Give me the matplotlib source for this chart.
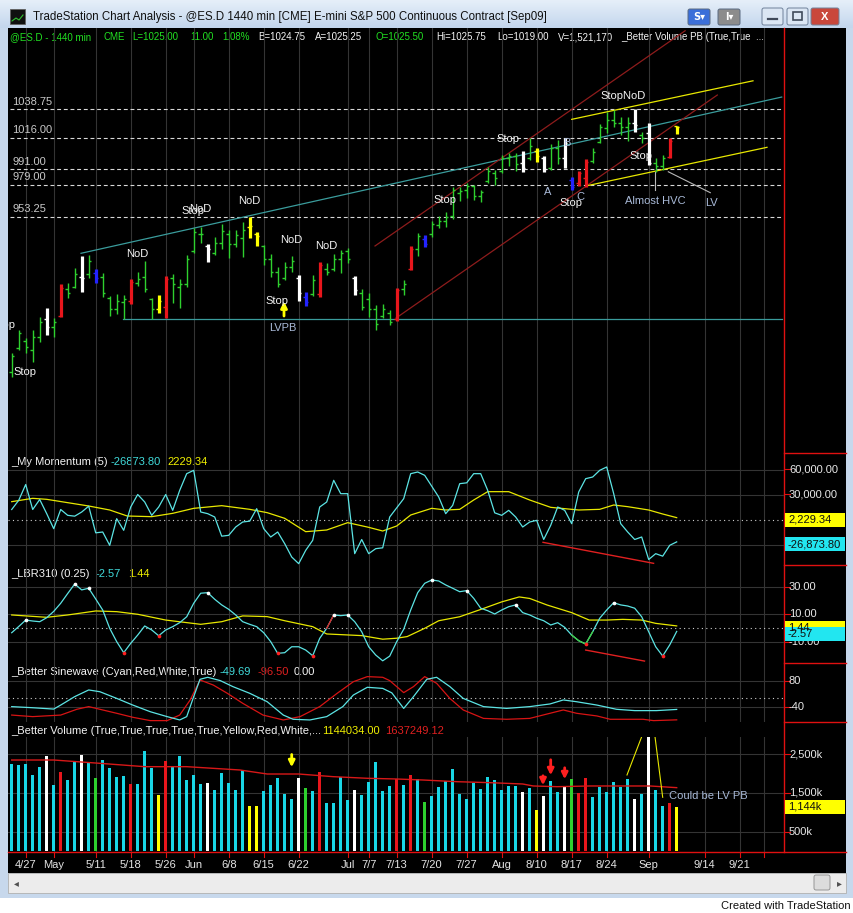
# TradeStation style daily ES chart: price bars, momentum, LBR310, sinewave, volume
import numpy as np
import matplotlib
matplotlib.use('Agg')
import matplotlib.pyplot as plt
from matplotlib.patches import Rectangle, FancyBboxPatch
from matplotlib.colors import LinearSegmentedColormap
from matplotlib.transforms import blended_transform_factory as blend

plt.rcParams['font.family'] = ['Liberation Sans', 'DejaVu Sans']

# ---------------- data ----------------
highs = [845.25, 863.5, 857.25, 863.5, 874, 881, 873, 900, 901, 912.75,
         922.25, 923, 912, 908.75, 890.5, 892.25, 891.5, 904, 909.5, 918.25,
         889, 891.5, 906.5, 908, 904, 923, 944.5, 945.25, 931.75, 937.5,
         947.75, 943, 943, 949.25, 953.25, 941.5, 931, 924, 913.5, 917.5,
         922.25, 907.25, 893.75, 907.25, 917.5, 916.75, 924, 927, 928.75, 906.5,
         896, 893, 883.5, 884.25, 879.5, 897, 903.25, 930.25, 940.5, 939,
         950, 954, 957.25, 977, 977, 980.25, 978.75, 974.75, 993, 990.5,
         1002.5, 1004, 1004, 1005.75, 1016, 1008, 1001.75, 1011.25, 1014.5, 1016,
         985, 989.75, 999.25, 1008, 1027, 1036.5, 1038.25, 1032.5, 1032.5, 1039,
         1020.75, 1028, 1000, 1002.5, 1016, 1025.75]
lows = [826.25, 847.75, 845.25, 838.25, 854, 859.5, 858, 874, 889, 897,
        893.75, 905, 901, 889.75, 874.75, 876.25, 872.25, 884.25, 898.5, 893.75,
        872.25, 877, 873, 885, 881, 897.75, 924.75, 932.5, 917.5, 923,
        928, 920.75, 929.5, 921.5, 936.5, 930.25, 915.25, 905.5, 897.75, 903.25,
        909.5, 886.5, 882.5, 890.5, 889.75, 907.25, 910.5, 908.75, 916.75, 891.5,
        879.5, 874, 863.5, 873, 867.5, 870.75, 891.5, 911.25, 922.25, 929.5,
        937.5, 944.5, 945.25, 951.75, 966, 968.25, 966.75, 965.25, 980.25, 978.75,
        988.25, 993.75, 989.75, 989, 998.5, 997, 989, 990.5, 995.25, 992.25,
        974.75, 978, 977, 996, 1012, 1020, 1024.75, 1018.5, 1013.5, 1020.75,
        1012, 994.5, 989, 990.5, 1000, 1019]
opens = [830, 849, 855, 848, 858, 872, 866, 875, 896, 898,
         906, 908, 909, 906, 889, 880, 886, 887, 901, 906,
         888, 880, 882, 905, 898, 900, 926, 940, 930, 925,
         933, 940, 932, 937, 945, 940, 930, 920, 910, 905,
         914, 905, 890, 892, 892, 912, 912, 920, 926, 905,
         893, 888, 880, 875, 877, 872, 896, 912, 928, 936,
         940, 947, 950, 954, 972, 975, 978, 970, 982, 988,
         990, 1000, 1002, 996, 1000, 1006, 1000, 992, 1008, 1000,
         983, 980, 984, 998, 1013, 1024, 1030, 1028, 1025, 1028,
         1018, 1020, 996, 994, 1001, 1025.5]
closes = [843, 861, 850, 858, 870, 866, 870, 897, 893, 908,
          905, 918, 905, 893, 880, 887, 888, 902, 904, 896,
          880, 887, 904, 900, 900, 920, 941, 940, 928, 933,
          942, 932, 939, 943, 946, 938, 920, 910, 900, 914,
          918, 893, 886, 903, 915, 910, 920, 925, 920, 895,
          882, 880, 868, 880, 870, 895, 900, 928, 938, 932,
          948, 950, 953, 975, 974, 978, 970, 973, 990, 984,
          1000, 1002, 995, 992, 1010, 1002, 991, 1008, 1000, 1012,
          977, 988, 997, 1005, 1025, 1030, 1028, 1025, 1028, 1026,
          1016, 996, 994, 1000, 1014, 1025]
# bar class: g normal, w white, r red, b blue (green volume), y yellow
bar_class = list("gggggwgrgg" "wgbggggrgg" "gyrgggggwg" "ggggyygggg" "gwbgrggggw"
                 "gggggrgrgb" "gggggggggg" "gggwgywggw" "brrggggggw" "gwggry")

tick_idx = [2, 6, 12, 17, 22, 26, 31, 36, 41, 48, 51, 55, 60, 65, 70, 75, 80, 85, 91, 99, 104]
tick_lbl = ['4/27', 'May', '5/11', '5/18', '5/26', 'Jun', '6/8', '6/15', '6/22', 'Jul', '7/7',
            '7/13', '7/20', '7/27', 'Aug', '8/10', '8/17', '8/24', 'Sep', '9/14', '9/21']
extra_grid = [107.5]

price_levels = [1038.75, 1016.00, 991.00, 979.00, 953.25]

momentum = [12000, 23000, 42000, 12000, 24000, 7000, -11000, 12000, 5000, 4000,
            9000, 16000, -16000, -15000, -31000, 1000, -13000, 15000, 30000, 21000,
            5000, 15000, 30000, 11000, 35000, 55000, 59000, 9000, 7000, 3000,
            -20000, -19000, -9000, -3000, -2000, 13000, -11000, -21000, -15000, -29000,
            -45000, -53000, -37000, -25000, 15000, 21000, 47000, 31000, 31000, -41000,
            -24000, -41000, -35000, -34000, 3000, 14000, 25000, 55000, 57000, 53000,
            40000, 27000, 7000, 17000, 43000, 44000, 55000, 55000, 35000, 8000,
            5000, 11000, 3000, -9000, -3000, -1000, -24000, -7000, 15000, 11000,
            -5000, 33000, 49000, 51000, 59000, 63000, 31000, -5000, -15000, -24000,
            -21000, -48000, -41000, -44000, -31000, -26873.80]
mom_avg_idx = [0, 3, 5, 8, 11, 14, 16.5, 20, 23, 26, 30, 34, 36.5, 39, 42, 45, 48, 51,
               53, 55, 57, 60, 62, 64, 66, 68, 71, 74, 77, 81, 84, 86, 88, 91, 93, 95]
mom_avg = [21400, 25400, 24200, 20200, 16200, 11400, 4200, 3400, 7400, 13400, 16600, 12200,
           8200, 1400, -14600, -12600, -3800, -9400, -13800, -7800, 5400, 13400, 11400, 12200,
           23400, 33400, 33400, 23400, 14600, 11400, 12200, 17400, 15400, 11400, 6600, 2229.34]
mom_div = ([75.9, 91.7], [-27400, -52600])

lbr = [-3.5, 1, 5.7, 5, 4.5, 7.4, 12, 17.9, 25, 31.9,
       27.6, 28.8, 21, 13.0, -0.3, -10.0, -18.0, -11.2, -5.2, 1.4,
       -1.5, -5.7, -1.5, 0.9, 3.8, 8.1, 17.9, 25.2, 25.6, 20.8,
       16.7, 13.5, 9.4, 4.5, 2.6, 0.9, -3.5, -10.0, -18.5, -18.0,
       -13.7, -13.7, -16.1, -20.2, -7.6, -0.3, 9.4, 8.9, 9.4, 4.5,
       -2.8, -13.7, -19.7, -23.9, -20.5, -10, -1.0, 13.0, 25.6, 32.4,
       34.8, 34.1, 31.2, 28.8, 26.3, 27.1, 21.5, 14.3, 12.5, 10.1,
       13.0, 15.4, 16.7, 11.1, 9.4, 7.0, 5.2, 2.1, 3.8, 0.4,
       -5.2, -9.3, -11.7, -2.8, 7.0, 13.0, 18.3, 16.7, 15.9, 14.3,
       8.1, -2.8, -13.7, -20.4, -12.4, -2.57]
lbr_highs = [2, 9, 11, 28, 46, 48, 60, 65, 72, 86]
lbr_lows = [16, 21, 38, 43, 82, 93]
lbr_avg_idx = [0, 5, 8, 12, 15, 18, 22, 27, 30, 33, 36.5, 39, 43, 45, 50, 53, 55, 56.5,
               59, 61, 64, 67, 70, 72.5, 74, 76.5, 80, 82.5, 85, 87.3, 90, 92, 95]
lbr_avg = [9.4, 7.7, 9.4, 12.3, 11.8, 9.9, 5.7, 2.6, 4.5, 8.7, 8.2, 5.2, 0.9, -4.4, -5.6,
           -8.2, -7.5, -6.3, -0.3, 5.2, 8.1, 13.4, 18.9, 22.5, 21.4, 16.6, 11.1, 5.7, 5.7,
           6.2, 5.7, 3.3, 1.44]
lbr_div = ([82, 90.4], [-16.1, -24.1])

sine_c_idx = [0, 3, 6, 7, 9, 11, 12.6, 15, 17.3, 19.8, 22.2, 24, 25, 26, 26.9, 28, 29.8,
              31.6, 34, 36.5, 38.8, 40.2, 42.6, 45, 47.3, 48.8, 50.8, 53, 54.3, 56, 57.4,
              59.3, 60.7, 62.6, 64.5, 67.4, 70.7, 74, 76.9, 78.8, 80.7, 83.6, 86.4, 89, 92.1, 95]
sine_c = [-37, -42, -48, -30, 8, 38, 30, 0, -30, -60, -82, -97, -82, 8, 86, 95, 80, 53, 23,
          -15, -75, -94, -97, -82, -37, 15, 50, 45, 25, -45, 8, 86, 95, 53, 0, -37, -45, -37,
          -25, -7, -15, -30, -49, -55, -55, -49.69]
sine_r_idx = [0, 3, 7, 9.3, 11, 12.6, 15, 17.3, 19.8, 22.2, 24, 25.5, 26.9, 28.8, 30.8, 33,
              35.9, 38.8, 41.2, 44, 46.5, 48.8, 50.8, 53, 54, 56, 57.4, 59, 60.7, 62.6, 64.5,
              67.4, 70.7, 74, 76.9, 78.8, 80.7, 83.6, 85.5, 90.2, 91.7, 95]
sine_r = [-75, -82, -75, -49, -37, -49, -67, -85, -100, -100, -75, -7, 83, 60, 23, -22, -75,
          -97, -82, -37, 23, 75, 98, 95, 80, 26, 53, 98, 68, 0, -52, -90, -94, -90, -67, -52,
          -67, -79, -94, -94, -100, -96.5]

volume_k = [2244, 2218, 2244, 1962, 2175, 2449, 1705, 2047, 1833, 2321,
            2474, 2295, 1893, 2346, 2150, 1919, 1936, 1731, 1731, 2585,
            2150, 1449, 2329, 2192, 2449, 1833, 1962, 1731, 1765, 1577,
            2022, 1765, 1577, 2090, 1175, 1175, 1551, 1705, 1893, 1474,
            1346, 1893, 1637, 1551, 2031, 1251, 1236, 1919, 1321, 1577,
            1449, 1782, 2295, 1551, 1680, 1851, 1705, 1962, 1859, 1278,
            1423, 1662, 1808, 2115, 1474, 1346, 1748, 1603, 1919, 1833,
            1577, 1680, 1680, 1526, 1628, 1064, 1423, 1816, 1526, 1662,
            1859, 1508, 1893, 1405, 1662, 1534, 1790, 1662, 1867, 1354,
            1474, 3100, 1577, 1175, 1251, 1144]
vol_avg_idx = [0, 6, 12.6, 19, 25, 32.6, 36.5, 41, 45.9, 50.8, 55, 58.8, 63.6, 68.3, 73,
               74.5, 77.9, 82.6, 87.3, 91.2, 95]
vol_avg_k = [2346, 2346, 2261, 2175, 2175, 2090, 1987, 1987, 1919, 1877, 1859, 1833, 1790,
             1765, 1731, 1680, 1662, 1680, 1680, 1680, 1637]

# drawn studies on the price chart (bar index, price)
resist_line = ([9.9, 110.0], [924.5, 1048.5])
support_line = ([15.9, 110.0], [872.1, 872.1])
red_upper = ([51.9, 96.2], [930.3, 1101.1])
red_lower = ([54.9, 100.8], [873.1, 1050.1])
yel_upper = ([80.0, 105.9], [1030.8, 1061.4])
yel_lower = ([82.0, 107.9], [977.9, 1008.6])
hvc_line = ([91.9, 91.9], [989.0, 974.7])
lv_line = ([93.8, 99.8], [989.2, 972.6])

WHITE, STEEL = '#f4f4f4', '#a9bad8'
price_notes = [('Stop', 1.9, 830.5, WHITE), ('Stop', -1.17, 867.5, WHITE),
               ('NoD', 18.0, 923.9, WHITE), ('Stop', 25.9, 958.0, WHITE),
               ('NoD', 26.9, 959.8, WHITE), ('NoD', 33.9, 966.0, WHITE),
               ('NoD', 39.9, 935.0, WHITE), ('NoD', 44.9, 930.3, WHITE),
               ('Stop', 37.9, 886.6, WHITE), ('LVPB', 38.8, 865.2, STEEL),
               ('Stop', 61.9, 966.8, WHITE), ('Stop', 70.9, 1015.2, WHITE),
               ('A', 76.5, 973.1, STEEL), ('B', 79.3, 1012.0, STEEL), ('C', 81.3, 969.1, STEEL),
               ('Stop', 79.9, 964.4, WHITE), ('StopNoD', 87.4, 1049.3, WHITE),
               ('Stop', 89.9, 1001.7, WHITE), ('Almost HVC', 92.0, 966.0, STEEL),
               ('LV', 99.9, 964.4, STEEL)]

# ---------------- layout (pixel boxes) ----------------
W, H = 854, 913
XL = (-0.53, 110.33)
GREEN, RED, BLUE, YEL = '#2ed02e', '#e8161c', '#2323ff', '#ffff00'
CYAN_L, CYAN_V = '#5ce4e4', '#19d6e6'
GRID = '#343434'
AXRED = '#e01010'

fig = plt.figure(figsize=(W / 100, H / 100), dpi=100)
fig.patch.set_facecolor('#c7d8ec')
bg = fig.add_axes([0, 0, 1, 1])
bg.axis('off')

# title bar
grad = LinearSegmentedColormap.from_list('tb', ['#e6eff9', '#c3d6ed'])
bg.imshow(np.linspace(0, 1, 50)[:, None], cmap=grad, aspect='auto', extent=(0, W, 28, 0))
bg.set_xlim(0, W)
bg.set_ylim(H, 0)
bg.add_patch(Rectangle((10, 9), 15, 15, facecolor='#101010', edgecolor='#606060', lw=0.6))
bg.plot([12, 16, 19, 23], [21, 18, 20, 15], color='#30c030', lw=0.8)
bg.text(33, 17, 'TradeStation Chart Analysis - @ES.D 1440 min [CME] E-mini S&P 500 Continuous Contract [Sep09]',
        fontsize=8.3, color='#101010', va='center')
for x0, w, fc, lab in [(688, 22, '#3b6fd9', 'S\u25be'), (718, 22, '#8c8c8c', 'I\u25be')]:
    bg.add_patch(FancyBboxPatch((x0, 9), w, 16, boxstyle='round,pad=0,rounding_size=2',
                                facecolor=fc, edgecolor='#5a6a80', lw=0.7))
    bg.text(x0 + w / 2, 17.5, lab, color='white', fontsize=7, ha='center', va='center', fontweight='bold',
            family=['DejaVu Sans'])
for x0, w, fc in [(762, 21, '#dbe6f3'), (787, 21, '#dbe6f3'), (811, 28, '#c9473b')]:
    bg.add_patch(FancyBboxPatch((x0, 8), w, 17, boxstyle='round,pad=0,rounding_size=2',
                                facecolor=fc, edgecolor='#6f819a', lw=0.7))
bg.plot([768, 777], [19.5, 19.5], color='#404a5a', lw=1.6)
bg.add_patch(Rectangle((793, 12.5), 9, 8, facecolor='none', edgecolor='#404a5a', lw=1.2))
bg.text(825, 16.5, 'X', color='white', fontsize=8, ha='center', va='center', fontweight='bold')

# black chart window, scroll bar, footer
bg.add_patch(Rectangle((8, 28), 838, 845, facecolor='black', edgecolor='none'))
bg.add_patch(Rectangle((8, 873), 838, 20, facecolor='#ececec', edgecolor='#b0b0b0', lw=0.6))
bg.text(16, 883, '\u25c2', fontsize=7, color='#505050', ha='center', va='center', family=['DejaVu Sans'])
bg.text(839, 883, '\u25b8', fontsize=7, color='#505050', ha='center', va='center', family=['DejaVu Sans'])
bg.add_patch(FancyBboxPatch((814, 875), 16, 15, boxstyle='round,pad=0,rounding_size=2',
                            facecolor='#dcdcdc', edgecolor='#8a8a8a', lw=0.6))
bg.add_patch(Rectangle((0, 898), W, 15, facecolor='white', edgecolor='none'))
bg.text(851, 906, 'Created with TradeStation', fontsize=8, color='#101010', ha='right', va='center')

# quote line
quote = [('@ES.D - 1440 min', 10, '#22e022'), ('CME', 104, '#22e022'), ('L=1025.00', 132, '#22e022'),
         ('11.00', 190, '#22e022'), ('1.08%', 222, '#22e022'), ('B=1024.75', 258, WHITE),
         ('A=1025.25', 315, WHITE), ('O=1025.50', 376, '#22e022'), ('Hi=1025.75', 436, WHITE),
         ('Lo=1019.00', 497, WHITE), ('V=1,521,170', 558, WHITE),
         ('_Better Volume PB (True,True  ...', 621, WHITE)]
for s, x0, c in quote:
    bg.text(x0, 37.5, s, fontsize=7.0, color=c, va='center')


def panel(x0, y0, x1, y1, ylim):
    ax = fig.add_axes([x0 / W, 1 - y1 / H, (x1 - x0) / W, (y1 - y0) / H])
    ax.set_facecolor('none')
    ax.axis('off')
    ax.set_xlim(XL)
    ax.set_ylim(ylim)
    for t in tick_idx + extra_grid:
        ax.axvline(t, color=GRID, lw=0.8, zorder=0)
    return ax


ax_p = panel(8, 28, 784, 453, (766.0, 1103.3))
ax_m = panel(8, 453, 784, 565, (-54600, 79800))
ax_l = panel(8, 565, 784, 663, (-25.5, 45.7))
ax_s = panel(8, 663, 784, 722, (-106.2, 159.3))
ax_v = panel(8, 737, 784, 852, (-13, 2936))

idx = np.arange(len(highs))
pcol = {'g': GREEN, 'w': '#ffffff', 'r': RED, 'b': BLUE, 'y': YEL}
vcol = {'g': CYAN_V, 'w': '#ffffff', 'r': RED, 'b': GREEN, 'y': YEL}
bar_colors = [pcol[c] for c in bar_class]
bar_lw = [1.0 if c == 'g' else 2.3 for c in bar_class]

# ---------------- price panel ----------------
ax_p.hlines(price_levels, -0.24, 110, colors='#d8d8d8', linestyles=(0, (3.5, 2.5)), lw=0.8)
for lv in price_levels:
    ax_p.annotate(f'{lv:.2f}', (0.05, lv), xytext=(0, 2), textcoords='offset points',
                  fontsize=8, color='#c8c8c8', va='bottom', ha='left')
ax_p.plot(*resist_line, color='#3a9c9c', lw=0.9)
ax_p.plot(*support_line, color='#3a9c9c', lw=0.9)
ax_p.plot(*red_upper, color='#8e1c1c', lw=0.9)
ax_p.plot(*red_lower, color='#8e1c1c', lw=0.9)
ax_p.plot(*yel_upper, color='#e8e800', lw=0.9)
ax_p.plot(*yel_lower, color='#e8e800', lw=0.9)
ax_p.plot(*hvc_line, color='#b8b8b8', lw=0.8)
ax_p.plot(*lv_line, color='#b8b8b8', lw=0.8)
ax_p.vlines(idx, lows, highs, colors=bar_colors, linewidths=bar_lw)
ax_p.hlines(opens, idx - 0.35, idx, colors=bar_colors, linewidths=1.0)
ax_p.hlines(closes, idx, idx + 0.35, colors=bar_colors, linewidths=1.0)
ax_p.annotate('', xy=(38.9, 888.5), xytext=(38.9, 872.5),
              arrowprops=dict(arrowstyle='-|>', color=YEL, lw=2.0, mutation_scale=9))
for s, xi, pv, c in price_notes:
    ax_p.text(xi, pv, s, color=c, fontsize=8, ha='center', va='center', clip_on=True)

# ---------------- momentum ----------------
ax_m.axhline(0, color='#d0d0d0', lw=0.8, ls=(0, (1, 3)))
for g in [60000, 30000, -30000]:
    ax_m.axhline(g, color=GRID, lw=0.8, zorder=0)
ax_m.plot(mom_avg_idx, mom_avg, color='#e8e800', lw=0.9)
ax_m.plot(idx, momentum, color=CYAN_L, lw=0.9)
ax_m.plot(*mom_div, color='#e02020', lw=1.0)

# ---------------- LBR310 ----------------
ax_l.axhline(0, color='#d0d0d0', lw=0.8, ls=(0, (1, 3)))
for g in [30, 10, -10]:
    ax_l.axhline(g, color=GRID, lw=0.8, zorder=0)
ax_l.plot(lbr_avg_idx, lbr_avg, color='#e8e800', lw=0.9)
ax_l.plot(idx, lbr, color=CYAN_L, lw=0.9)
ax_l.plot(idx[45:47], lbr[45:47], color='#e02020', lw=0.9)
ax_l.plot(idx[80:84], lbr[80:84], color='#40d040', lw=0.9)
ax_l.scatter(lbr_highs, [lbr[i] for i in lbr_highs], s=7, color='white', zorder=4, lw=0)
ax_l.scatter(lbr_lows, [lbr[i] for i in lbr_lows], s=7, color='#ff2020', zorder=4, lw=0)
ax_l.plot(*lbr_div, color='#e02020', lw=1.0)

# ---------------- sinewave ----------------
ax_s.axhline(0, color='#d0d0d0', lw=0.8, ls=(0, (1, 3)))
for g in [80, -40]:
    ax_s.axhline(g, color=GRID, lw=0.8, zorder=0)
ax_s.plot(sine_r_idx, sine_r, color='#d81414', lw=0.9)
ax_s.plot(sine_c_idx, sine_c, color=CYAN_L, lw=0.9)

# ---------------- volume ----------------
for g in [500, 1500, 2500]:
    ax_v.axhline(g, color=GRID, lw=0.8, zorder=0)
ax_v.bar(idx, volume_k, width=0.48, color=[vcol[c] for c in bar_class], zorder=2)
ax_v.plot(vol_avg_idx, vol_avg_k, color='#d81818', lw=1.0, zorder=3)
for xi, y0, y1, c in [(75.9, 2013, 1628, '#ff2020'), (77.0, 2423, 1885, '#ff2020'),
                      (79.0, 2218, 1782, '#ff2020'), (40.0, 2559, 2090, YEL)]:
    ax_v.annotate('', xy=(xi, y1), xytext=(xi, y0), zorder=5,
                  arrowprops=dict(arrowstyle='-|>', color=c, lw=2.0, mutation_scale=9))
ax_v.plot([87.9, 90.0], [1962, 2944], color='#e8e800', lw=0.8, zorder=4)
ax_v.plot([91.9, 93.0], [2944, 1390], color='#e8e800', lw=0.8, zorder=4)
ax_v.text(93.9, 1423, 'Could be LV PB', color=STEEL, fontsize=8, va='center', zorder=5)

# x axis labels and ticks
xt = blend(ax_v.transData, bg.transData)
for t, s in zip(tick_idx, tick_lbl):
    ax_v.plot([t, t], [852, 857], color=AXRED, lw=0.8, transform=xt, clip_on=False)
    ax_v.text(t, 865, s, color='#e4e4e4', fontsize=8, ha='center', va='center', transform=xt, clip_on=False)
for t in extra_grid:
    ax_v.plot([t, t], [852, 857], color=AXRED, lw=0.8, transform=xt, clip_on=False)

# axis frame lines
bg.plot([784, 784], [28, 852], color=AXRED, lw=1.0, zorder=3)
bg.plot([8, 846], [852.5, 852.5], color=AXRED, lw=1.0, zorder=3)
for yy in [453, 565, 663, 722]:
    bg.plot([784, 846], [yy, yy], color=AXRED, lw=1.0, zorder=3)

# panel titles
titles = [(461.7, [('_My Momentum (5)', 11, WHITE), ('-26873.80', 111, '#40dada'), ('2229.34', 167, '#f0f000')]),
          (574, [('_LBR310 (0.25)', 11, WHITE), ('-2.57', 96, '#40dada'), ('1.44', 128, '#f0f000')]),
          (671.7, [('_Better Sinewave (Cyan,Red,White,True)', 11, WHITE), ('-49.69', 220, '#40dada'),
                   ('-96.50', 258, '#e02020'), ('0.00', 294, WHITE)]),
          (730.7, [('_Better Volume (True,True,True,True,True,Yellow,Red,White,...', 11, WHITE),
                   ('1144034.00', 322, '#f0f000'), ('1637249.12', 385, '#e02020')])]
for yy, parts in titles:
    for s, x0, c in parts:
        bg.text(x0, yy, s, fontsize=8, color=c, va='center', zorder=4)

fig.canvas.draw()
inv = bg.transData.inverted()


def ypx(ax, v):
    return inv.transform(ax.transData.transform((0, v)))[1]


def axis_label(ax, v, s):
    y = ypx(ax, v)
    bg.plot([784, 790], [y, y], color=AXRED, lw=0.8, zorder=3)
    bg.text(789, y, s, fontsize=8, color='#e8e8e8', va='center', zorder=4)


def value_box(ax, v, s, fc, dy=0):
    y = ypx(ax, v) + dy
    bg.add_patch(Rectangle((785, y - 7), 60, 14, facecolor=fc, edgecolor='none', zorder=5))
    bg.text(788, y, s, fontsize=8, color='#101010', va='center', zorder=6)


axis_label(ax_m, 60000, '60,000.00')
axis_label(ax_m, 30000, '30,000.00')
value_box(ax_m, mom_avg[-1], '2,229.34', YEL, 2)
value_box(ax_m, momentum[-1], '-26,873.80', '#22e6f0', 2.5)
axis_label(ax_l, 30, '30.00')
axis_label(ax_l, 10, '10.00')
axis_label(ax_l, -10, '-10.00')
value_box(ax_l, lbr_avg[-1], '1.44', YEL, 2)
value_box(ax_l, lbr[-1], '-2.57', '#22e6f0', 3)
axis_label(ax_s, 80, '80')
axis_label(ax_s, -40, '-40')
axis_label(ax_v, 2500, '2,500k')
axis_label(ax_v, 1500, '1,500k')
axis_label(ax_v, 500, '500k')
value_box(ax_v, volume_k[-1], '1,144k', YEL)

fig.savefig('out.png', dpi=100, facecolor=fig.get_facecolor())
